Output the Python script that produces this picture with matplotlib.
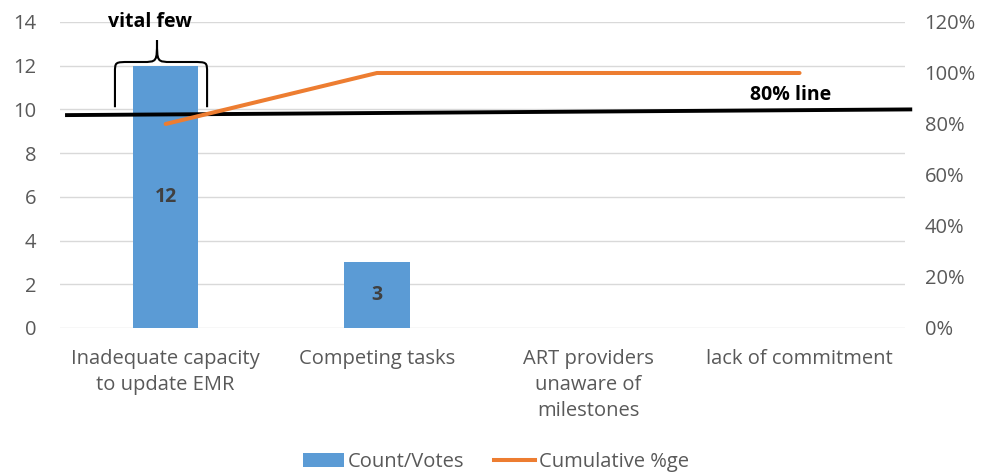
import matplotlib
matplotlib.use("Agg")
import matplotlib.pyplot as plt
from matplotlib.path import Path
from matplotlib.patches import PathPatch, Patch
from matplotlib.lines import Line2D
from matplotlib.ticker import FuncFormatter

# data
categories = [
    "Inadequate capacity\nto update EMR",
    "Competing tasks",
    "ART providers\nunaware of\nmilestones",
    "lack of commitment",
]
counts = [12, 3, 0, 0]
cumulative_pct = [80, 100, 100, 100]

# hand-drawn 80% reference line (left-axis units), slightly tilted
line80_x = [-0.467, 3.524]
line80_y = [9.74, 10.0]

BLUE = "#5B9BD5"
ORANGE = "#ED7D31"
GREY = "#595959"
GRID = "#D9D9D9"
FS = 14.5

plt.rcParams["font.family"] = ["Open Sans", "DejaVu Sans"]

fig = plt.figure(figsize=(9.92, 4.75), dpi=100)
ax = fig.add_axes([0.0605, 0.3095, 0.852, 0.6442])
ax2 = ax.twinx()

x = list(range(len(categories)))
ax.bar(x, counts, width=0.31, color=BLUE, zorder=2)
for xi, c in zip(x, counts):
    if c > 0:
        ax.text(xi, c / 2, str(c), ha="center", va="center",
                fontsize=14, fontweight="bold", color="#404040", zorder=3)

ax.set_xlim(-0.5, len(categories) - 0.5)
ax.set_ylim(0, 14)
ax.set_yticks(range(0, 15, 2))
ax.set_xticks(x)
ax.set_xticklabels(categories, fontsize=FS, color=GREY, linespacing=1.4)
ax.yaxis.grid(True, color=GRID, linewidth=1.0, zorder=0)
ax.set_axisbelow(True)
ax.tick_params(axis="y", length=0, labelsize=FS, labelcolor=GREY, pad=17)
ax.tick_params(axis="x", length=0, pad=15)
for s in ax.spines.values():
    s.set_visible(False)

ax2.plot(x, cumulative_pct, color=ORANGE, linewidth=2.9, solid_capstyle="round", zorder=4)
ax2.set_ylim(0, 120)
ax2.set_yticks(range(0, 121, 20))
ax2.yaxis.set_major_formatter(FuncFormatter(lambda v, p: f"{v:.0f}%"))
ax2.tick_params(axis="y", length=0, labelsize=FS, labelcolor=GREY, pad=14)
for s in ax2.spines.values():
    s.set_visible(False)

# 80% line and label
ax.plot(line80_x, line80_y, color="black", linewidth=2.8, clip_on=False, zorder=5)
ax.text(2.956, 10.66, "80% line", ha="center", va="center",
        fontsize=14, fontweight="bold", color="black")

# curly brace over the first bar
xl, xr, xt = -0.24, 0.196, -0.041
yb, yh, yt = 10.1, 12.17, 13.17
rx, ry = 0.07, 0.5
verts = [
    (xl, yb), (xl, yh - ry),
    (xl, yh), (xl, yh), (xl + rx, yh),
    (xt - rx, yh),
    (xt, yh), (xt, yh), (xt, yt),
    (xt, yh), (xt, yh), (xt + rx, yh),
    (xr - rx, yh),
    (xr, yh), (xr, yh), (xr, yh - ry),
    (xr, yb),
]
codes = [
    Path.MOVETO, Path.LINETO,
    Path.CURVE4, Path.CURVE4, Path.CURVE4,
    Path.LINETO,
    Path.CURVE4, Path.CURVE4, Path.CURVE4,
    Path.CURVE4, Path.CURVE4, Path.CURVE4,
    Path.LINETO,
    Path.CURVE4, Path.CURVE4, Path.CURVE4,
    Path.LINETO,
]
ax.add_patch(PathPatch(Path(verts, codes), facecolor="none", edgecolor="black",
                       linewidth=1.5, zorder=5))
ax.text(-0.074, 14.0, "vital few", ha="center", va="center",
        fontsize=14, fontweight="bold", color="black", zorder=6)

handles = [
    Patch(facecolor=BLUE, edgecolor="none", label="Count/Votes"),
    Line2D([0], [0], color=ORANGE, linewidth=2.9, label="Cumulative %ge"),
]
leg = fig.legend(handles=handles, loc="center", bbox_to_anchor=(0.5, 0.027),
                 ncol=2, frameon=False, fontsize=FS, handlelength=2.0,
                 handletextpad=0.2, columnspacing=1.5)
for t in leg.get_texts():
    t.set_color(GREY)

fig.savefig("out.png", dpi=100)
